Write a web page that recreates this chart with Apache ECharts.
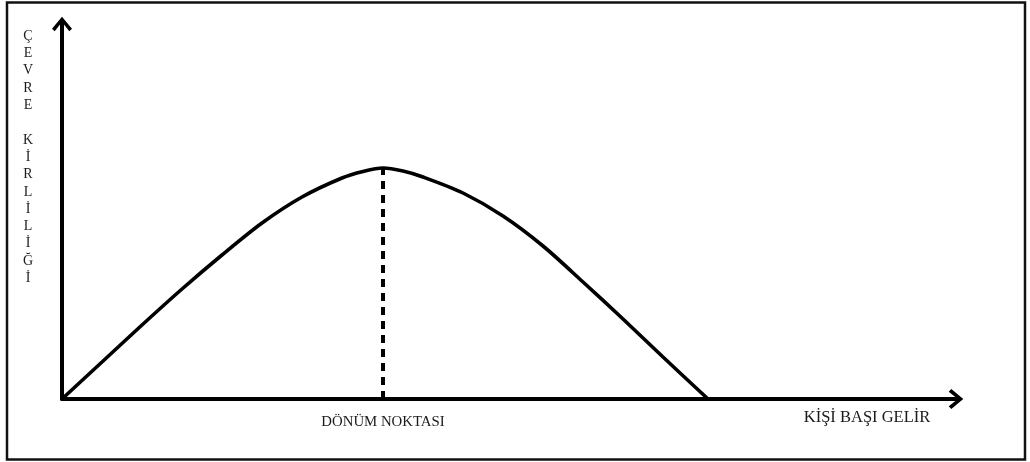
<!DOCTYPE html>
<html>
<head>
<meta charset="utf-8">
<script src="https://cdn.jsdelivr.net/npm/echarts@6/dist/echarts.min.js"></script>
<style>
  html, body { margin: 0; padding: 0; background: #fff; }
  #chart { width: 1030px; height: 462px; }
</style>
</head>
<body>
<div id="chart"></div>
<script>
// kişi başı gelir (x) ve çevre kirliliği (y) - çevresel kuznets eğrisi
var incomeX = [0, 40, 80, 120, 160, 200, 240, 280, 301, 321, 341, 361, 401, 441, 481, 521, 561, 601, 646];
var pollutionY = [0, 37, 74, 110, 144, 176, 202, 221, 227.5, 231, 228, 222, 206, 183, 153, 117, 80, 42, 0];
var turningPoint = [321, 231];
var turningLabel = 'DÖNÜM NOKTASI';
var xName = 'KİŞİ BAŞI GELİR';
var yLetters = ['Ç', 'E', 'V', 'R', 'E', '', 'K', 'İ', 'R', 'L', 'İ', 'L', 'İ', 'Ğ', 'İ'];

var curve = [];
for (var i = 0; i < incomeX.length; i++) {
	curve.push([incomeX[i], pollutionY[i]]);
}

// açık ok ucu (yukarı bakan)
var chevron = 'path://M0,12 L10,0 L20,12 L17.3,14.6 L10,5.4 L2.7,14.6 Z';
var serif = 'Liberation Serif';

var option = {
	backgroundColor: '#fff',
	animation: false,
	grid: {
		left: 62,
		right: 72,
		top: 22,
		bottom: 63,
		outerBoundsMode: 'none'
	},
	graphic: [{
		type: 'rect',
		shape: { x: 7, y: 2.5, width: 1018, height: 457 },
		style: { fill: 'none', stroke: '#111', lineWidth: 2.5 },
		silent: true
	}, {
		type: 'text',
		x: 867,
		y: 418,
		style: {
			text: xName,
			fontFamily: serif,
			fontSize: 16.5,
			fill: '#1a1a1a',
			align: 'center',
			verticalAlign: 'middle'
		},
		silent: true
	}],
	xAxis: {
		type: 'value',
		min: 0,
		max: 896,
		splitLine: { show: false },
		axisTick: { show: false },
		axisLine: {
			show: true,
			symbol: ['none', chevron],
			symbolSize: [20, 16],
			symbolOffset: [0, -2],
			lineStyle: { color: '#000', width: 4 }
		},
		axisLabel: {
			customValues: [turningPoint[0]],
			formatter: function () { return turningLabel; },
			margin: 16,
			fontFamily: serif,
			fontSize: 14.8,
			color: '#1a1a1a'
		}
	},
	yAxis: {
		type: 'value',
		min: 0,
		max: 377,
		splitLine: { show: false },
		axisTick: { show: false },
		axisLabel: { show: false },
		axisLine: {
			show: true,
			symbol: ['none', chevron],
			symbolSize: [20, 16],
			symbolOffset: [0, -2],
			lineStyle: { color: '#000', width: 4 }
		},
		name: yLetters.join('\n'),
		nameLocation: 'end',
		nameGap: -265,
		nameTextStyle: {
			fontFamily: serif,
			fontSize: 14,
			lineHeight: 17.3,
			color: '#1a1a1a',
			align: 'center',
			verticalAlign: 'bottom',
			padding: [0, 68, 0, 0]
		}
	},
	series: [{
		type: 'line',
		data: curve,
		smooth: 0.3,
		symbol: 'none',
		lineStyle: { color: '#000', width: 3.6 },
		markLine: {
			silent: true,
			symbol: 'none',
			label: { show: false },
			lineStyle: { color: '#000', width: 4, type: [8, 6] },
			data: [[
				{ coord: [turningPoint[0], 0] },
				{ coord: [turningPoint[0], turningPoint[1]] }
			]]
		}
	}]
};

var chart = echarts.init(document.getElementById('chart'));
chart.setOption(option);
</script>
</body>
</html>
